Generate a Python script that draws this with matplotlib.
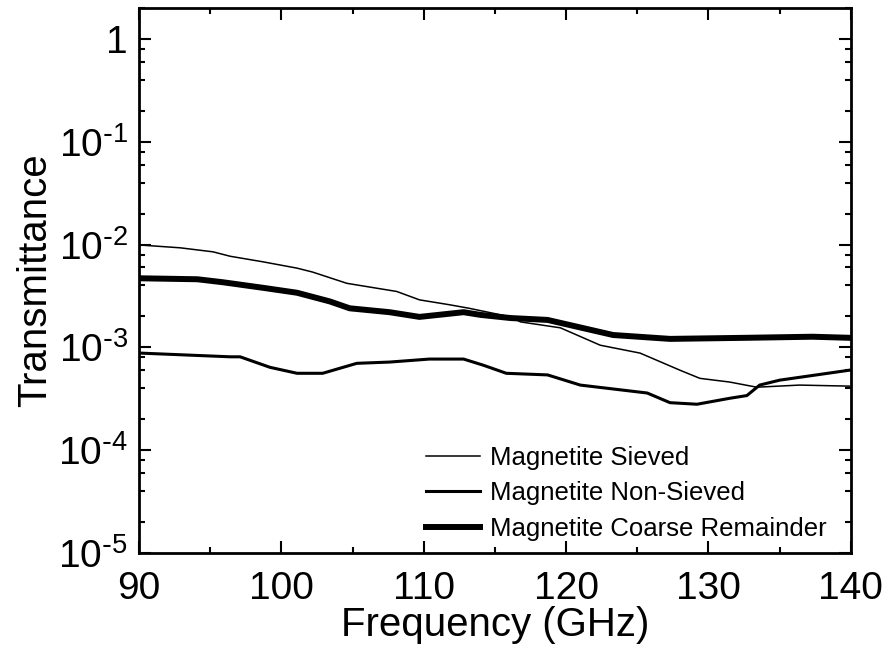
import numpy as np
import matplotlib
matplotlib.use('Agg')
import matplotlib.pyplot as plt
from matplotlib.ticker import FixedLocator, LogLocator, MultipleLocator, FuncFormatter, NullFormatter

plt.rcParams['font.family'] = ['Liberation Sans', 'DejaVu Sans']
plt.rcParams['mathtext.default'] = 'regular'

# transmittance curves (frequency in GHz)
f_sieved = [90.1, 92.9, 95.2, 96.4, 98.7, 101.1, 102.2, 104.6, 108.1, 109.7, 111.8,
            113.2, 116.1, 116.8, 119.6, 122.4, 125.2, 128.0, 129.4, 131.5, 133.4, 136.4, 139.9]
t_sieved = [9.9e-3, 9.3e-3, 8.5e-3, 7.7e-3, 6.8e-3, 5.9e-3, 5.4e-3, 4.2e-3, 3.5e-3, 2.9e-3, 2.6e-3,
            2.4e-3, 1.98e-3, 1.77e-3, 1.55e-3, 1.05e-3, 8.8e-4, 6.0e-4, 5.0e-4, 4.6e-4, 4.1e-4, 4.3e-4, 4.2e-4]

f_nonsieved = [90.1, 96.4, 97.1, 99.2, 101.1, 102.9, 105.3, 107.6, 110.4, 112.8, 114.2,
               115.8, 118.7, 121.0, 125.7, 127.3, 129.2, 131.5, 132.7, 133.6, 135.0, 139.9]
t_nonsieved = [8.8e-4, 8.1e-4, 8.1e-4, 6.4e-4, 5.6e-4, 5.6e-4, 7.0e-4, 7.2e-4, 7.7e-4, 7.7e-4, 6.7e-4,
               5.6e-4, 5.4e-4, 4.3e-4, 3.6e-4, 2.9e-4, 2.8e-4, 3.2e-4, 3.4e-4, 4.3e-4, 4.8e-4, 6.0e-4]

f_coarse = [90.1, 94.1, 95.9, 98.7, 101.1, 103.4, 104.8, 107.6, 109.7, 112.8, 114.0,
            116.1, 118.7, 123.3, 127.3, 132.7, 137.3, 139.9]
t_coarse = [4.7e-3, 4.6e-3, 4.3e-3, 3.8e-3, 3.4e-3, 2.8e-3, 2.4e-3, 2.2e-3, 1.98e-3, 2.2e-3, 2.07e-3,
            1.93e-3, 1.85e-3, 1.32e-3, 1.21e-3, 1.24e-3, 1.27e-3, 1.24e-3]

labels = ['Magnetite Sieved', 'Magnetite Non-Sieved', 'Magnetite Coarse Remainder']

fig = plt.figure(figsize=(8.89, 6.51), dpi=100)
ax = fig.add_axes([0.1564, 0.1505, 0.8006, 0.8372])

ax.plot(f_sieved, t_sieved, color='black', lw=1.1, label=labels[0])
ax.plot(f_nonsieved, t_nonsieved, color='black', lw=2.2, label=labels[1])
ax.plot(f_coarse, t_coarse, color='black', lw=4.3, label=labels[2])

ax.set_yscale('log')
ax.set_xlim(90, 140)
ax.set_ylim(1e-5, 2)

ax.xaxis.set_major_locator(MultipleLocator(10))
ax.xaxis.set_minor_locator(MultipleLocator(5))
ax.yaxis.set_major_locator(FixedLocator([1e-5, 1e-4, 1e-3, 1e-2, 1e-1, 1]))
ax.yaxis.set_minor_locator(LogLocator(base=10, subs=(2, 4, 6, 8)))
ax.yaxis.set_minor_formatter(NullFormatter())

def ylab(v, pos):
    e = int(round(np.log10(v)))
    if e == 0:
        return '1'
    return r'$10^{\text{-}%d}$' % abs(e)
ax.yaxis.set_major_formatter(FuncFormatter(ylab))

ax.tick_params(which='both', direction='in', top=True, right=True, width=1.5, labelsize=28)
ax.tick_params(which='major', length=8.5)
ax.tick_params(which='minor', length=4.5)
ax.tick_params(axis='x', pad=13)
ax.tick_params(axis='y', pad=8)
for s in ax.spines.values():
    s.set_linewidth(2)

ax.set_xlabel('Frequency (GHz)', fontsize=29, labelpad=-1)
ax.set_ylabel('Transmittance', fontsize=29, labelpad=3)

ax.legend(loc='upper left', bbox_to_anchor=(0.403, 0.197), frameon=False, fontsize=18.5,
          handlelength=2.1, handletextpad=0.4, labelspacing=0.45, borderpad=0, borderaxespad=0)

fig.savefig('out.png', dpi=100)
